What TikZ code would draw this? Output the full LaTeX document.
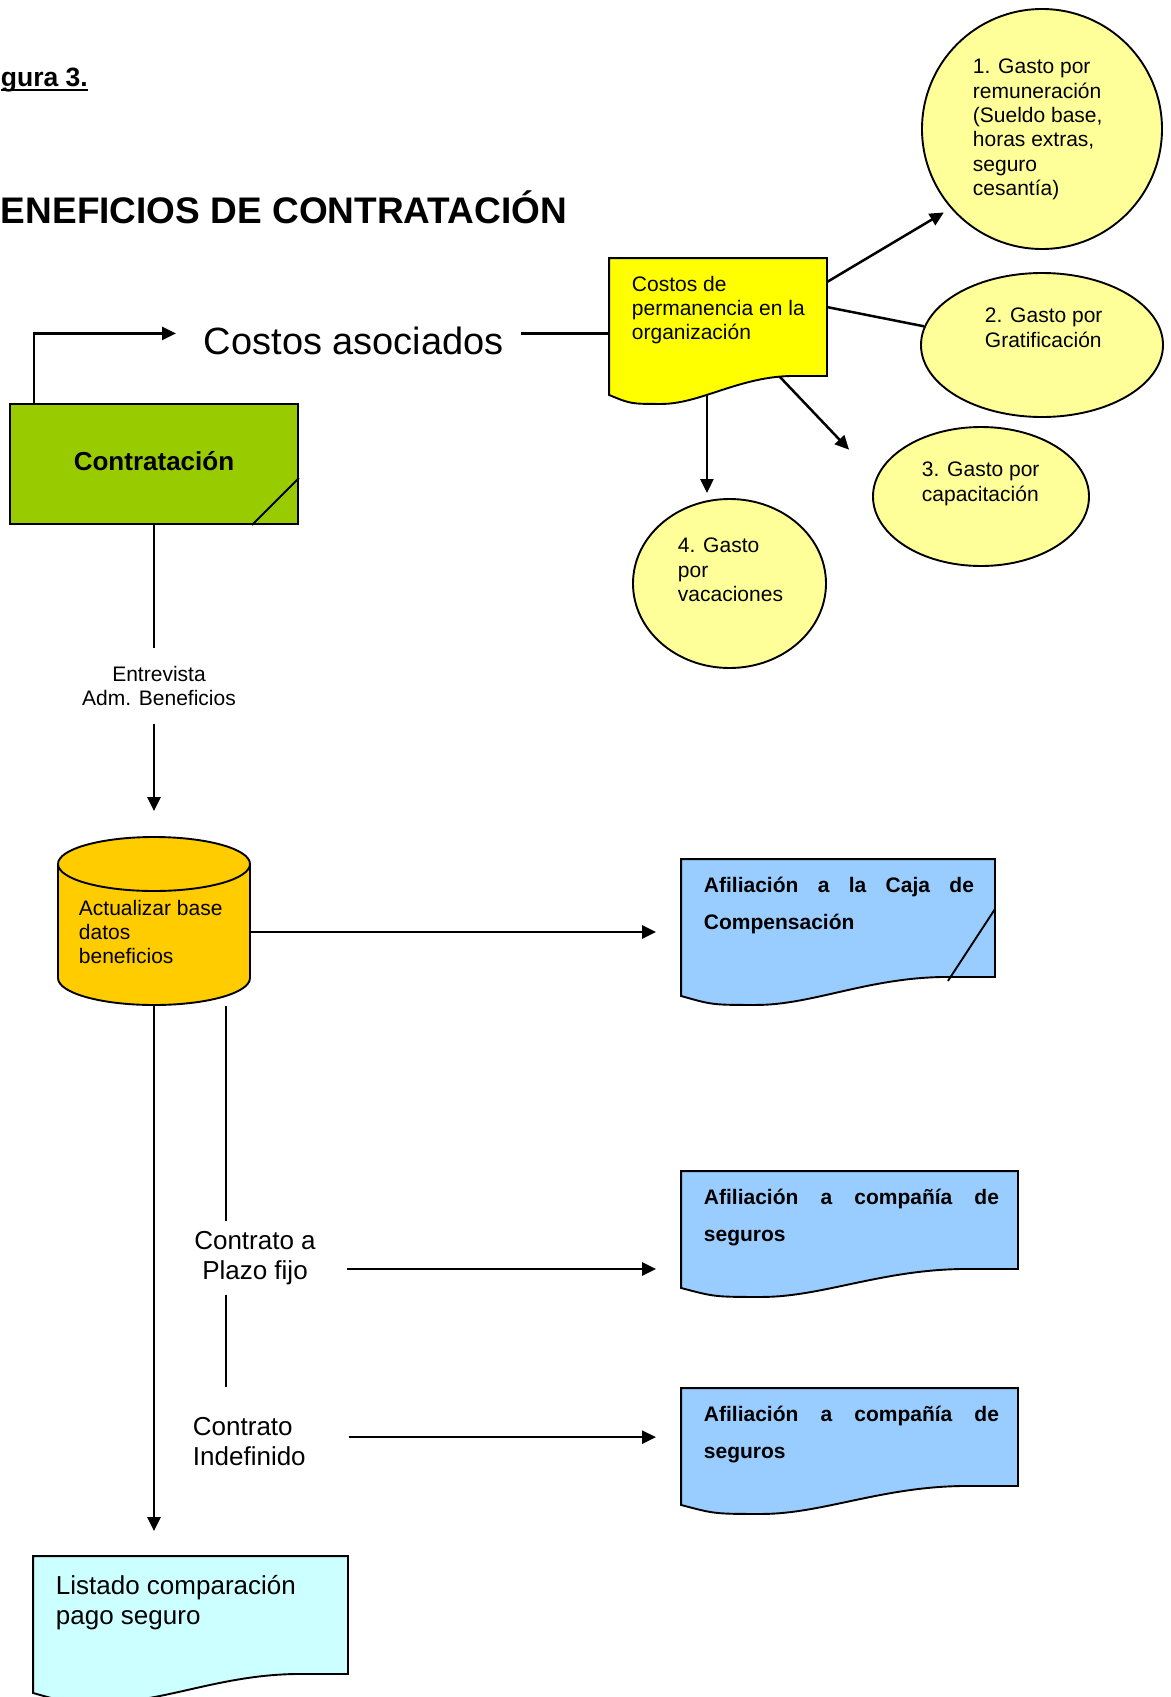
\documentclass[tikz,border=0pt]{standalone}
\usepackage{fontspec}
\setmainfont{Liberation Sans}
\usetikzlibrary{arrows.meta,calc,backgrounds,shapes.geometric}

\definecolor{verde}{HTML}{99CC00}
\definecolor{amarillo}{HTML}{FFFF00}
\definecolor{crema}{HTML}{FFFF99}
\definecolor{naranja}{HTML}{FFCC00}
\definecolor{celeste}{HTML}{99CCFF}
\definecolor{aguamarina}{HTML}{CCFFFF}

% underline that crosses the descender
\newcommand{\figuline}[1]{\setbox0=\hbox{#1}\rlap{\rule[-5pt]{\wd0}{2.5pt}}\box0}

% document shape with wavy bottom around an empty node
\newcommand{\docshape}[2]{%
	\draw[fill=#2] let \p1 = (#1.south west), \p2 = (#1.north east), \n1 = {\x2-\x1} in
	(\x1,\y2) -- (\x2,\y2) -- (\x2,\y1) -- ({\x2-0.15*\n1},\y1)
	.. controls ({\x1+0.6*\n1},\y1) and ({\x1+0.42*\n1},{\y1-28pt}) .. ({\x1+0.24*\n1},{\y1-28pt})
	.. controls ({\x1+0.1*\n1},{\y1-28pt}) .. (\x1,{\y1-19pt}) -- cycle;}

\begin{document}
\begin{tikzpicture}[
	x = 1pt, y = -1pt,
	line width = 1.9pt,
	every node/.style = {inner sep = 0},
	txt/.style = {anchor = north west, align = left, font = \fontsize{21}{24.4}\selectfont},
	big/.style = {font = \fontsize{26}{30}\selectfont},
	gasto/.style = {draw, ellipse, fill = crema},
	afil/.style = {anchor = north west, align = left, font = \fontsize{21}{37}\selectfont\bfseries},
	arr/.style = {-{Triangle[length = 14pt, width = 13pt]}}
	]
	\useasboundingbox (0,0) rectangle (1170,1697);

	% titles
	\node[anchor = base west, font = \fontsize{26.5}{30}\selectfont\bfseries] (figura) at (0,86) {\figuline{gura 3.}};
	\node[anchor = base west, font = \fontsize{37}{40}\selectfont\bfseries] (titulo) at (0,223) {ENEFICIOS DE CONTRATACIÓN};

	% left column
	\node[draw, fill = verde, minimum width = 288pt, minimum height = 120pt, text depth = 6pt,
		font = \fontsize{26}{30}\selectfont\bfseries] (contratacion) at (154,464) {Contratación};
	\draw ($(contratacion.south east)+(-47,0)$) -- ($(contratacion.south east)+(0,-47)$);
	\node[anchor = base west, font = \fontsize{38}{44}\selectfont] (costosaso) at (203,354) {Costos asociados};
	\node[align = center, inner ysep = 17pt, font = \fontsize{21}{24.4}\selectfont] (entrevista) at (159,686)
		{Entrevista\\Adm. Beneficios};

	\node[minimum width = 192pt, minimum height = 168pt] (basedatos) at (154,921) {};
	\draw[fill = naranja] (58,864) -- (58,978) arc[start angle = 180, end angle = 360, x radius = 96pt, y radius = 27pt]
		-- (250,864) arc[start angle = 0, end angle = 180, x radius = 96pt, y radius = 27pt] -- cycle;
	\draw (58,864) arc[start angle = 180, end angle = 360, x radius = 96pt, y radius = 27pt];
	\node[txt] (basetxt) at (78,899) {Actualizar base\\datos\\beneficios};

	\node[big, align = center, inner xsep = 10pt, inner ysep = 9pt] (plazo) at (255,1258) {Contrato a\\Plazo fijo};
	\node[big, anchor = north west, align = left] (indef) at (192,1416) {Contrato\\Indefinido};

	\node[minimum width = 313pt, minimum height = 116pt] (listado) at (190.5,1615) {};
	\docshape{listado}{aguamarina}
	\node[big, anchor = north west, align = left] (listadotxt) at (55,1574) {Listado comparación\\pago seguro};

	% costs
	\node[minimum width = 216pt, minimum height = 116pt] (permanencia) at (718,317) {};
	\docshape{permanencia}{amarillo}
	\node[txt] (permanenciatxt) at (631,275) {Costos de\\permanencia en la\\organización};

	\node[gasto, minimum width = 240pt, minimum height = 240pt] (gasto1) at (1042,129) {};
	\node[txt] (gasto1txt) at (972,58) {1. Gasto por\\remuneración\\(Sueldo base,\\horas extras,\\seguro\\cesantía)};
	\node[gasto, minimum width = 242pt, minimum height = 144pt] (gasto2) at (1042,345) {};
	\node[txt] (gasto2txt) at (984,307) {2. Gasto por\\Gratificación};
	\node[gasto, minimum width = 216pt, minimum height = 139pt] (gasto3) at (981,496.5) {};
	\node[txt] (gasto3txt) at (921,461) {3. Gasto por\\capacitación};
	\node[gasto, minimum width = 193pt, minimum height = 169pt] (gasto4) at (729.5,583.5) {};
	\node[txt] (gasto4txt) at (677,537) {4. Gasto\\por\\vacaciones};

	% affiliations
	\node[minimum width = 312pt, minimum height = 116pt] (afil1) at (838,918) {};
	\docshape{afil1}{celeste}
	\draw ($(afil1.north east)+(0,50)$) -- ($(afil1.south east)+(-47,4)$);
	\node[afil] (afil1txt) at (703,876) {\makebox[270pt][s]{Afiliación a la Caja de}\\Compensación};
	\node[minimum width = 335pt, minimum height = 96pt] (afil2) at (849.5,1220) {};
	\docshape{afil2}{celeste}
	\node[afil] (afil2txt) at (703,1188) {\makebox[295pt][s]{Afiliación a compañía de}\\seguros};
	\node[minimum width = 335pt, minimum height = 96pt] (afil3) at (849.5,1437) {};
	\docshape{afil3}{celeste}
	\node[afil] (afil3txt) at (703,1405) {\makebox[295pt][s]{Afiliación a compañía de}\\seguros};

	% connectors
	\coordinate (capsrc) at ($(permanencia.south east)+(-48,0)$);
	\coordinate (vacsrc) at ($(permanencia.south east)+(-120,0)$);
	\coordinate (contrato) at ($(basedatos.south)+(72,0)$);
	\begin{scope}[on background layer]
	\begin{scope}[line width = 2.5pt]
		\draw[arr, shorten >= 27pt] ([xshift = 25pt]contratacion.north west) |- ($(costosaso.west)+(0,-7)$);
		\draw[shorten <= 16pt] ($(costosaso.east)+(0,-7)$) -- ($(costosaso.east -| permanencia.west)+(0,-7)$);
		\draw[arr, shorten >= 8pt] ([yshift = -24pt]permanencia.north east) -- (gasto1.221);
		\draw ([yshift = -49pt]permanencia.north east) -- (gasto2.171);
		\draw[arr, shorten >= 39pt] (capsrc) -- (gasto3.170);
		\draw[arr, shorten >= 5pt] (vacsrc) -- (vacsrc |- gasto4.north);

		\draw (contratacion.south) -- (contratacion.south |- entrevista.north);
		\draw[arr, shorten >= 25pt] (contratacion.south |- entrevista.south) -- (basedatos.north);
		\draw[arr, shorten >= 25pt] ($(basedatos.east)+(0,11)$) -- ($(basedatos.east -| afil1.west)+(0,11)$);
		\draw[arr, shorten >= 25pt] (basedatos.south) -- (basedatos.south |- listado.north);
		\draw (contrato) -- (contrato |- plazo.north);
		\draw[shorten >= 29pt] (contrato |- plazo.south) -- (contrato |- indef.north);
		\draw[arr, shorten <= 20pt, shorten >= 25pt] ($(plazo.east)+(0,11)$) -- ($(plazo.east -| afil2.west)+(0,11)$);
		\draw[arr, shorten <= 42pt, shorten >= 25pt] ($(indef.east)+(0,-4)$) -- ($(indef.east -| afil3.west)+(0,-4)$);
	\end{scope}
	\end{scope}
\end{tikzpicture}
\end{document}
